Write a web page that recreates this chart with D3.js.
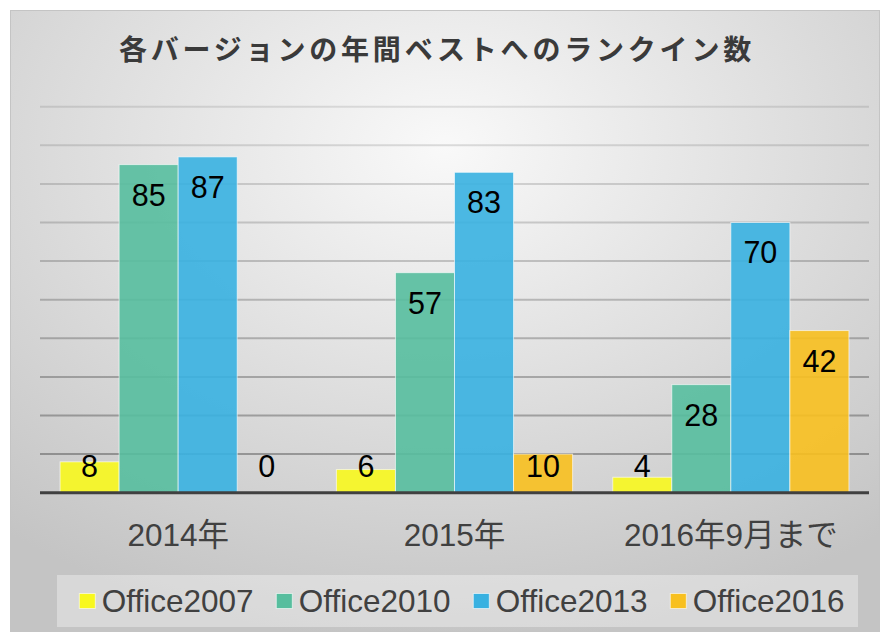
<!DOCTYPE html>
<html>
<head>
<meta charset="utf-8">
<script src="https://cdn.jsdelivr.net/npm/d3@7"></script>
<style>
    body { margin: 0; background: #fff; }
    svg { display: block; }
</style>
</head>
<body>
<script>
// data
var categories = ["2014年", "2015年", "2016年9月まで"];
var seriesNames = ["Office2007", "Office2010", "Office2013", "Office2016"];
var office2007 = [8, 6, 4];
var office2010 = [85, 57, 28];
var office2013 = [87, 83, 70];
var office2016 = [0, 10, 42];
var yTicks = [0, 10, 20, 30, 40, 50, 60, 70, 80, 90, 100];
var chartTitle = "各バージョンの年間ベストへのランクイン数";

var seriesValues = [office2007, office2010, office2013, office2016];
var colors = ["#f8f81e", "#57be9e", "#38b1e1", "#f8c01f"];

var width = 888, height = 635;
var plot = { left: 40, right: 869, top: 106.7, bottom: 492.7 };

var svg = d3.select("body").append("svg")
    .attr("width", width)
    .attr("height", height);

var defs = svg.append("defs");
var bg = defs.append("radialGradient")
    .attr("id", "bg")
    .attr("cx", "50%").attr("cy", "22%").attr("r", "80%");
bg.append("stop").attr("offset", "0%").attr("stop-color", "#f9f9f9");
bg.append("stop").attr("offset", "100%").attr("stop-color", "#c4c4c4");

// frame
svg.append("rect")
    .attr("x", 10.5).attr("y", 10.5)
    .attr("width", 869).attr("height", 621)
    .attr("fill", "url(#bg)")
    .attr("stroke", "#c4c4c4");

// scales
var x0 = d3.scaleBand()
    .domain(categories)
    .range([plot.left, plot.right]);
var x1 = d3.scaleBand()
    .domain(seriesNames)
    .range([0, x0.bandwidth()])
    .paddingOuter(0.34);
var y = d3.scaleLinear()
    .domain([0, 100])
    .range([plot.bottom, plot.top]);

// gridlines
var gridOpacity = d3.scaleLinear().domain([0, 100]).range([0.32, 0.1]);
svg.append("g").selectAll("line")
    .data(yTicks.filter(function (d) { return d > 0; }))
    .enter().append("line")
    .attr("x1", plot.left).attr("x2", plot.right)
    .attr("y1", function (d) { return y(d); })
    .attr("y2", function (d) { return y(d); })
    .attr("stroke", "#000")
    .attr("stroke-opacity", function (d) { return gridOpacity(d); })
    .attr("stroke-width", 2);

// bars
var rows = [];
categories.forEach(function (c, i) {
    seriesNames.forEach(function (s, j) {
        rows.push({ cat: c, series: s, value: seriesValues[j][i], color: colors[j] });
    });
});

var bars = svg.append("g").selectAll("g")
    .data(rows)
    .enter().append("g");

bars.filter(function (d) { return d.value > 0; })
    .append("rect")
    .attr("x", function (d) { return x0(d.cat) + x1(d.series); })
    .attr("y", function (d) { return y(d.value); })
    .attr("width", x1.bandwidth())
    .attr("height", function (d) { return y(0) - y(d.value); })
    .attr("fill", function (d) { return d.color; })
    .attr("fill-opacity", 0.9)
    .attr("stroke", "#fff")
    .attr("stroke-opacity", 0.6)
    .attr("stroke-width", 1);

// value labels
bars.append("text")
    .attr("x", function (d) { return x0(d.cat) + x1(d.series) + x1.bandwidth() / 2; })
    .attr("y", function (d) { return Math.min(y(d.value) + 30, y(0) - 26.5); })
    .attr("dy", "0.36em")
    .attr("text-anchor", "middle")
    .attr("font-family", "Liberation Sans, Arial, sans-serif")
    .attr("font-size", 30.5)
    .attr("fill", "#000")
    .text(function (d) { return d.value; });

// baseline
svg.append("line")
    .attr("x1", plot.left).attr("x2", plot.right)
    .attr("y1", y(0)).attr("y2", y(0))
    .attr("stroke", "#404040")
    .attr("stroke-width", 3);

// category axis
var xAxis = svg.append("g")
    .attr("transform", "translate(0," + y(0) + ")")
    .call(d3.axisBottom(x0).tickSize(0).tickPadding(0));
xAxis.select(".domain").remove();
xAxis.selectAll("text")
    .attr("y", 53)
    .attr("dy", 0)
    .attr("font-family", "Liberation Sans, 'Noto Sans CJK JP', sans-serif")
    .attr("font-size", 31.5)
    .attr("fill", "#404040");

// title
svg.append("text")
    .attr("x", 437)
    .attr("y", 60)
    .attr("text-anchor", "middle")
    .attr("font-family", "'Noto Sans CJK JP', sans-serif")
    .attr("font-weight", "bold")
    .attr("font-size", 28)
    .attr("letter-spacing", 3.8)
    .attr("fill", "#3a3a3a")
    .text(chartTitle);

// legend
var legend = svg.append("g");
legend.append("rect")
    .attr("x", 57).attr("y", 575)
    .attr("width", 801).attr("height", 52)
    .attr("fill", "#fff")
    .attr("fill-opacity", 0.35);

var legendX = d3.scalePoint()
    .domain(seriesNames)
    .range([78.8, 669.8]);

var items = legend.selectAll("g.item")
    .data(seriesNames)
    .enter().append("g")
    .attr("class", "item")
    .attr("transform", function (d) { return "translate(" + legendX(d) + ",0)"; });

items.append("rect")
    .attr("x", 0.5).attr("y", 593.5)
    .attr("width", 16).attr("height", 15)
    .attr("fill", function (d, i) { return colors[i]; })
    .attr("stroke", "#fff")
    .attr("stroke-opacity", 0.6);

items.append("text")
    .attr("x", 23)
    .attr("y", 612)
    .attr("font-family", "Liberation Sans, Arial, sans-serif")
    .attr("font-size", 31.5)
    .attr("fill", "#404040")
    .text(function (d) { return d; });
</script>
</body>
</html>
